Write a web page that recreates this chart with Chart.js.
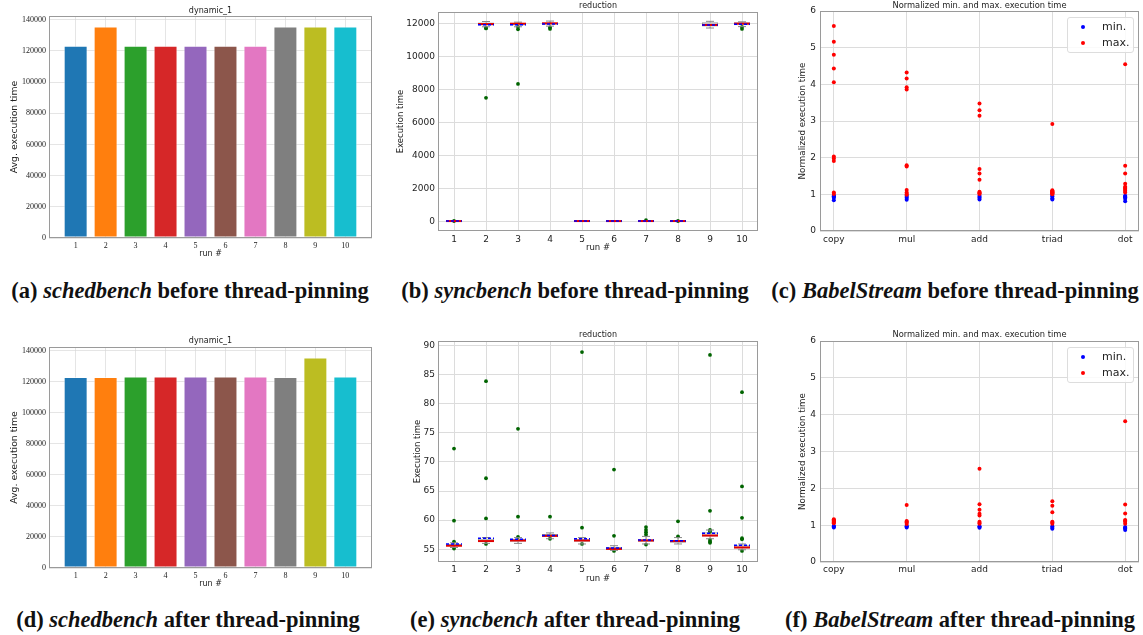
<!DOCTYPE html>
<html><head><meta charset="utf-8">
<script src="https://cdn.jsdelivr.net/npm/chart.js@4.4.1/dist/chart.umd.min.js"></script>
<style>
html,body{margin:0;padding:0;background:#fff;}
body{width:1143px;height:635px;position:relative;overflow:hidden;}
canvas{position:absolute;}
.cap{position:absolute;font-family:'Liberation Serif',serif;font-weight:bold;font-size:22.5px;white-space:nowrap;transform:translate(-50%,-50%);color:#111;}
.leg{position:absolute;width:67px;height:36px;box-sizing:border-box;border:1px solid #ddd;border-radius:3px;background:rgba(255,255,255,0.85);font-family:'DejaVu Sans',sans-serif;font-size:11px;color:#222;}
.leg .it{position:absolute;left:0;height:14px;line-height:14px;}
.leg .dot{position:absolute;left:13px;top:5px;width:4px;height:4px;border-radius:50%;}
.leg .tx{position:absolute;left:34px;top:0;}
</style></head>
<body>
<canvas id="ca" width="380" height="262" style="left:0;top:0"></canvas>
<canvas id="cb" width="378" height="262" style="left:385px;top:0"></canvas>
<canvas id="cc" width="380" height="262" style="left:763px;top:0"></canvas>
<canvas id="cd" width="380" height="262" style="left:0;top:330px"></canvas>
<canvas id="ce" width="378" height="262" style="left:385px;top:325px"></canvas>
<canvas id="cf" width="380" height="262" style="left:763px;top:325px"></canvas>

<div class="leg" style="left:1067px;top:17px">
  <div class="it" style="top:2px;width:65px"><span class="dot" style="background:#0000ff"></span><span class="tx">min.</span></div>
  <div class="it" style="top:18px;width:65px"><span class="dot" style="background:#ff0000"></span><span class="tx">max.</span></div>
</div>
<div class="leg" style="left:1067px;top:347px">
  <div class="it" style="top:2px;width:65px"><span class="dot" style="background:#0000ff"></span><span class="tx">min.</span></div>
  <div class="it" style="top:18px;width:65px"><span class="dot" style="background:#ff0000"></span><span class="tx">max.</span></div>
</div>

<div class="cap" style="left:190px;top:291px">(a) <i>schedbench</i> before thread-pinning</div>
<div class="cap" style="left:575px;top:291px">(b) <i>syncbench</i> before thread-pinning</div>
<div class="cap" style="left:955px;top:291px">(c) <i>BabelStream</i> before thread-pinning</div>
<div class="cap" style="left:188px;top:620px">(d) <i>schedbench</i> after thread-pinning</div>
<div class="cap" style="left:575px;top:620px">(e) <i>syncbench</i> after thread-pinning</div>
<div class="cap" style="left:960px;top:620px">(f) <i>BabelStream</i> after thread-pinning</div>

<script>
// ---------- data ----------
const runNums = [1,2,3,4,5,6,7,8,9,10];
const runLabels = ['1','2','3','4','5','6','7','8','9','10'];
const barColors = ['#1f77b4','#ff7f0e','#2ca02c','#d62728','#9467bd','#8c564b','#e377c2','#7f7f7f','#bcbd22','#17becf'];

// tick values
const schedTicks = [0,20000,40000,60000,80000,100000,120000,140000];
const syncTicksBefore = [0,2000,4000,6000,8000,10000,12000];
const syncTicksAfter = [55,60,65,70,75,80,85,90];
const normTicks = [0,1,2,3,4,5,6];
const kernelPos = [0,1,2,3,4];

const schedBefore = [123300,135600,123300,123300,123300,123300,123300,135600,135600,135600];
const schedAfter  = [123000,123000,123400,123400,123400,123400,123400,123000,135600,123400];

// syncbench "reduction" box statistics, before pinning
const q1Before   = [55.4,11875,11875,11915,55.8,54.9,56.2,56.1,11800,11880];
const q3Before   = [56.0,12050,12035,12030,56.8,55.4,56.8,56.6,12060,12060];
const medBefore  = [55.7,11955,11975,12000,56.5,55.1,56.5,56.4,11900,11980];
const meanBefore = [55.9,11915,11915,11955,56.8,55.2,56.6,56.4,11900,11940];
const loBefore   = [55.2,11790,11790,11830,55.8,54.7,55.8,55.9,11715,11800];
const hiBefore   = [56.3,12110,12070,12135,57.0,55.6,57.2,57.0,12120,12090];
const outBefore  = [[60],[11730,11690,7500],[11790,11640,8340],[11750,11660],[],[],[110],[60],[],[11780,11660]];

// syncbench "reduction" box statistics, after pinning
const q1After   = [55.5,56.3,56.3,57.1,56.3,54.9,56.3,56.1,57.2,55.1];
const q3After   = [55.9,56.8,56.8,57.6,56.8,55.4,56.7,56.6,57.9,55.7];
const medAfter  = [55.6,56.4,56.5,57.3,56.5,55.05,56.5,56.4,57.35,55.3];
const meanAfter = [55.9,56.9,56.7,57.35,56.8,55.2,56.6,56.45,57.75,55.7];
const loAfter   = [55.3,56.0,56.0,56.8,55.9,54.8,55.9,55.9,56.8,54.9];
const hiAfter   = [56.1,57.0,57.0,57.8,57.0,55.6,57.2,57.0,58.3,55.9];
const outAfter  = [[72.3,59.9,56.3,55.1],[83.9,67.2,60.3,55.9],[75.7,60.6,57.1],[60.6,56.8],[88.9,58.7,55.9],
                   [68.7,57.3,54.7],[58.8,58.3,57.9,57.5,55.8],[59.8,57.2],[88.4,61.6,58.3,58.0,56.6,56.3,56.1],
                   [82.0,65.8,60.4,56.9,56.7,54.7]];

// BabelStream normalized min / max
const kernels = ['copy','mul','add','triad','dot'];
const minBefore = [[0.95,0.91,0.84,0.97,0.93],[0.96,0.90,0.85,0.93],[0.96,0.90,0.86,0.93],[0.94,0.89,0.86,0.96],[0.94,0.88,0.81,0.96,0.92]];
const maxBefore = [[5.59,5.16,4.81,4.43,4.06,2.03,1.98,1.91,1.05,1.01],
                   [4.32,4.16,3.92,3.86,1.79,1.76,1.12,1.05,1.01,0.99],
                   [3.48,3.29,3.14,1.69,1.57,1.40,1.05,1.01,1.03,1.07],
                   [2.92,1.09,1.05,1.00,1.07,1.03,1.11,1.02,1.06,1.08],
                   [4.55,1.78,1.57,1.29,1.21,1.15,1.09,1.12,1.18,1.05]];
const minAfter = [[0.97,0.94,0.98],[0.97,0.94,0.98],[0.97,0.93,0.95],[0.97,0.93,0.90],[0.95,0.91,0.87,0.93]];
const maxAfter = [[1.16,1.11,1.05,1.13,1.08,1.14,1.10],
                  [1.55,1.11,1.07,1.03,1.09],
                  [2.53,1.57,1.42,1.31,1.26,1.09,1.04,1.06],
                  [1.65,1.53,1.35,1.09,1.04,1.07],
                  [3.82,1.56,1.32,1.14,1.09,1.04,1.12]];

// ---------- helpers ----------
Chart.defaults.font.family = "'DejaVu Sans', sans-serif";
Chart.defaults.color = '#222';
const GRID = '#dcdcdc';
const setTicks = arr => (s => { s.ticks = arr.map(v => ({value: v})); });
const plain = v => String(v);
const frame = {id:'frame', afterDraw(c){const a=c.chartArea,x=c.ctx;x.save();x.strokeStyle='#9a9a9a';x.lineWidth=1;
  x.strokeRect(Math.round(a.left)+0.5,Math.round(a.top)+0.5,Math.round(a.right-a.left)-1,Math.round(a.bottom-a.top)-1);x.restore();}};

function barChart(id, values, top, xh) {
  return new Chart(document.getElementById(id), {
    type:'bar',
    data:{datasets:[{data: runNums.map((r,i)=>({x:r,y:values[i]})), backgroundColor: barColors,
      borderColor:'rgba(255,255,255,0.55)', borderWidth:1, borderSkipped:false, barPercentage:0.8, categoryPercentage:1}]},
    options:{responsive:false, animation:false, devicePixelRatio:1,
      layout:{padding:{left:0,top:0,right:8,bottom:0}},
      plugins:{legend:{display:false}, tooltip:{enabled:false},
        title:{display:true, text:'dynamic_1', fullSize:false, color:'#222', font:{size:8, weight:'normal', lineHeight:'10px'}, padding:{top:top[0],bottom:top[1]}}},
      scales:{
        x:{type:'linear', offset:false, min:0.11, max:10.89, z:1, afterBuildTicks: setTicks(runNums),
          ticks:{autoSkip:false, maxRotation:0, padding:3, color:'#222', callback:plain, font:{family:"'Liberation Serif', serif", size:8}},
          grid:{offset:false, color:'rgba(215,215,215,0.65)', drawTicks:false}, border:{display:false},
          title:{display:true, text:'run #', color:'#222', font:{size:8, lineHeight:'10px'}, padding:{top:0,bottom:3}},
          afterFit(s){s.height = xh;}},
        y:{type:'linear', min:0, max:142400, z:1, afterBuildTicks: setTicks(schedTicks),
          ticks:{autoSkip:false, padding:3, color:'#222', callback:plain, font:{family:"'Liberation Serif', serif", size:8}},
          grid:{color:'rgba(215,215,215,0.65)', drawTicks:false}, border:{display:false},
          title:{display:true, text:'Avg. execution time', color:'#222', font:{size:9.3, lineHeight:'12px'}, padding:{top:9,bottom:0}},
          afterFit(s){s.width = 49;}}
      }},
    plugins:[frame]
  });
}

function boxPlugin(st){
  return {id:'boxLines', afterDatasetsDraw(chart){
    const meta = chart.getDatasetMeta(0), y = chart.scales.y, ctx = chart.ctx;
    const ln=(a,b,c,d)=>{ctx.beginPath();ctx.moveTo(a,b);ctx.lineTo(c,d);ctx.stroke();};
    ctx.save();
    meta.data.forEach((bar,i)=>{
      const cx = bar.x, hw = bar.width/2;
      const pq1=y.getPixelForValue(st.q1[i]), pq3=y.getPixelForValue(st.q3[i]);
      const plo=y.getPixelForValue(st.lo[i]), phi=y.getPixelForValue(st.hi[i]);
      ctx.setLineDash([]); ctx.strokeStyle='#888'; ctx.lineWidth=1;
      ln(cx,pq3,cx,phi); ln(cx,pq1,cx,plo);
      ln(cx-hw/2,phi,cx+hw/2,phi); ln(cx-hw/2,plo,cx+hw/2,plo);
      ctx.strokeStyle='#e00000'; ctx.lineWidth=2;
      const pm=y.getPixelForValue(st.med[i]); ln(cx-hw,pm,cx+hw,pm);
      ctx.strokeStyle='#0000ff'; ctx.lineWidth=1.5; ctx.setLineDash([3,2]);
      const pa=y.getPixelForValue(st.mean[i]); ln(cx-hw,pa,cx+hw,pa);
    });
    ctx.restore();
  }};
}

function boxChart(id, st, cfg) {
  const outPts = [];
  st.out.forEach((arr,i)=>arr.forEach(v=>outPts.push({x:runLabels[i], y:v})));
  return new Chart(document.getElementById(id), {
    type:'bar',
    data:{labels:runLabels, datasets:[
      {data: st.q1.map((v,i)=>[v, st.q3[i]]), backgroundColor:'rgba(195,195,195,0.55)', borderColor:'#9a9a9a',
       borderWidth:1, borderSkipped:false, barPercentage:0.5, categoryPercentage:1, order:1},
      {type:'scatter', data: outPts, backgroundColor:'#006400', borderWidth:0, pointRadius:1.9, order:0}
    ]},
    options:{responsive:false, animation:false, devicePixelRatio:1,
      layout:{padding:{left:0,top:0,right:5,bottom:0}},
      plugins:{legend:{display:false}, tooltip:{enabled:false},
        title:{display:true, text:'reduction', fullSize:false, color:'#222', font:{size:8, weight:'normal', lineHeight:'10px'}, padding:{top:cfg.tt,bottom:cfg.tb}}},
      scales:{
        x:{type:'category', offset:true,
          ticks:{padding:cfg.xp, color:'#222', font:{size:9}, autoSkip:false, maxRotation:0},
          grid:{offset:false, color:GRID, drawTicks:false}, border:{display:false},
          title:{display:true, text:'run #', color:'#222', font:{size:8.5, lineHeight:'10px'}, padding:{top:0,bottom:cfg.rb}},
          afterFit(s){s.height = cfg.xh;}},
        y:{type:'linear', min:cfg.ymin, max:cfg.ymax, afterBuildTicks: setTicks(cfg.ticks),
          ticks:{padding:3, color:'#222', callback:plain, font:{size:9}},
          grid:{color:GRID, drawTicks:false}, border:{display:false},
          title:{display:true, text:'Execution time', color:'#222', font:{size:8.5, lineHeight:'10px'}, padding:{top:cfg.yt,bottom:0}},
          afterFit(s){s.width = 53;}}
      }},
    plugins:[boxPlugin(st), frame]
  });
}

function normChart(id, mins, maxs, cfg) {
  const toPts = arrs => { const p=[]; arrs.forEach((a,i)=>a.forEach(v=>p.push({x:kernelPos[i],y:v}))); return p; };
  return new Chart(document.getElementById(id), {
    type:'scatter',
    data:{datasets:[
      {label:'min.', data: toPts(mins), backgroundColor:'#0000ff', borderWidth:0, pointRadius:2, order:1},
      {label:'max.', data: toPts(maxs), backgroundColor:'#ff0000', borderWidth:0, pointRadius:2, order:0}
    ]},
    options:{responsive:false, animation:false, devicePixelRatio:1,
      layout:{padding:{left:0,top:0,right:4,bottom:0}},
      plugins:{legend:{display:false}, tooltip:{enabled:false},
        title:{display:true, text:'Normalized min. and max. execution time', fullSize:false, color:'#222', font:{size:8.3, weight:'normal', lineHeight:'10px'}, padding:{top:cfg.tt,bottom:cfg.tb}}},
      scales:{
        x:{type:'linear', min:-0.19, max:4.19, afterBuildTicks: setTicks(kernelPos),
          ticks:{autoSkip:false, maxRotation:0, padding:cfg.xp, color:'#222', font:{size:9},
            callback:v=>kernels[kernelPos.indexOf(v)]},
          grid:{color:GRID, drawTicks:false}, border:{display:false},
          afterFit(s){s.height = cfg.xh;}},
        y:{type:'linear', min:0, max:6, afterBuildTicks: setTicks(normTicks),
          ticks:{padding:4, color:'#222', callback:plain, font:{size:9}},
          grid:{color:GRID, drawTicks:false}, border:{display:false},
          title:{display:true, text:'Normalized execution time', color:'#222', font:{size:8.7, lineHeight:'10px'}, padding:{top:35,bottom:0}},
          afterFit(s){s.width = 57;}}
      }},
    plugins:[frame]
  });
}

// ---------- charts ----------
barChart('ca', schedBefore, [6,0], 24);
barChart('cd', schedAfter, [6,1], 24);

boxChart('cb', {q1:q1Before,q3:q3Before,med:medBefore,mean:meanBefore,lo:loBefore,hi:hiBefore,out:outBefore},
  {ymin:-544, ymax:12683, ticks:syncTicksBefore, tt:1, tb:1, xp:3, xh:31, rb:9, yt:10.7});
boxChart('ce', {q1:q1After,q3:q3After,med:medAfter,mean:meanAfter,lo:loAfter,hi:hiAfter,out:outAfter},
  {ymin:52.8, ymax:90.8, ticks:syncTicksAfter, tt:5, tb:1, xp:2, xh:25, rb:3, yt:27.3});

normChart('cc', minBefore, maxBefore, {tt:1, tb:0, xp:3, xh:31});
normChart('cf', minAfter, maxAfter, {tt:5, tb:1, xp:2, xh:25});
</script>
</body></html>
